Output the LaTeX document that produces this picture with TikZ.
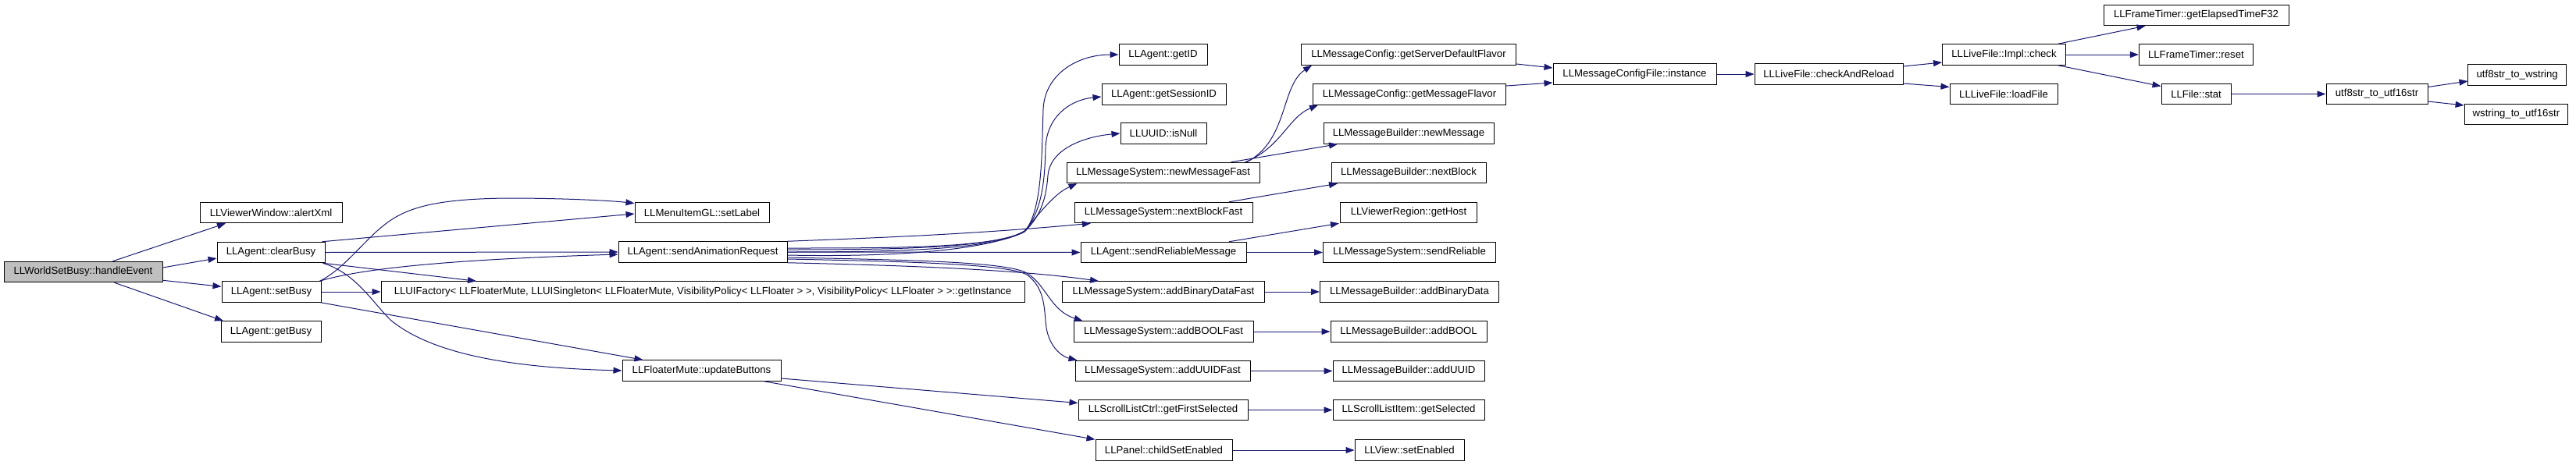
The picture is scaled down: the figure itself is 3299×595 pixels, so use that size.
\documentclass[tikz,border=0pt]{standalone}
\usepackage{fontspec}
\setmainfont{Liberation Sans}
\usetikzlibrary{arrows.meta,calc}
\definecolor{edgec}{HTML}{191970}
\definecolor{rootfill}{HTML}{BFBFBF}
\begin{document}
\begin{tikzpicture}[x=1pt,y=-1pt,
  fn/.style={draw=black, line width=1pt, minimum height=26.5pt, inner sep=0pt,
    font=\fontsize{13.2pt}{16pt}\selectfont, anchor=center},
  ed/.style={draw=edgec, line width=1pt, -{Triangle[length=11pt,width=8pt]}}]
\useasboundingbox (0,0) rectangle (3299,595);
% column 0
\node[fn,fill=rootfill,minimum width=203pt] (he) at (106.5,348.5) {LLWorldSetBusy::handleEvent};
% column 1
\node[fn,minimum width=182pt] (alert) at (347,272.5) {LLViewerWindow::alertXml};
\node[fn,minimum width=138pt] (clear) at (347,323.5) {LLAgent::clearBusy};
\node[fn,minimum width=127pt] (setb) at (347.5,374) {LLAgent::setBusy};
\node[fn,minimum width=128pt] (getb) at (347,425) {LLAgent::getBusy};
% column 2
\node[fn,minimum width=172pt] (setlabel) at (899,272.5) {LLMenuItemGL::setLabel};
\node[fn,minimum width=216pt] (sar) at (900,323) {LLAgent::sendAnimationRequest};
\node[fn,minimum width=824pt] (uif) at (900,374) {LLUIFactory< LLFloaterMute, LLUISingleton< LLFloaterMute, VisibilityPolicy< LLFloater > >, VisibilityPolicy< LLFloater > >::getInstance};
\node[fn,minimum width=203pt] (upd) at (898.5,475) {LLFloaterMute::updateButtons};
% column 3
\node[fn,minimum width=113pt] (getid) at (1489.5,70) {LLAgent::getID};
\node[fn,minimum width=159pt] (sess) at (1490.5,121) {LLAgent::getSessionID};
\node[fn,minimum width=110pt] (isnull) at (1490,171) {LLUUID::isNull};
\node[fn,minimum width=247pt] (nmf) at (1489.5,221.5) {LLMessageSystem::newMessageFast};
\node[fn,minimum width=228pt] (nbf) at (1490,272.5) {LLMessageSystem::nextBlockFast};
\node[fn,minimum width=212pt] (srm) at (1490,323.5) {LLAgent::sendReliableMessage};
\node[fn,minimum width=259pt] (abdf) at (1490,374) {LLMessageSystem::addBinaryDataFast};
\node[fn,minimum width=230pt] (boolf) at (1490,425) {LLMessageSystem::addBOOLFast};
\node[fn,minimum width=224pt] (uuidf) at (1489,475.5) {LLMessageSystem::addUUIDFast};
\node[fn,minimum width=217pt] (gfs) at (1489.5,525.5) {LLScrollListCtrl::getFirstSelected};
\node[fn,minimum width=175pt] (cse) at (1490.5,577) {LLPanel::childSetEnabled};
% column 4
\node[fn,minimum width=275pt] (gsdf) at (1804,70) {LLMessageConfig::getServerDefaultFlavor};
\node[fn,minimum width=247pt] (gmf) at (1805,121) {LLMessageConfig::getMessageFlavor};
\node[fn,minimum width=218pt] (nm) at (1804,171) {LLMessageBuilder::newMessage};
\node[fn,minimum width=198pt] (nb) at (1804,221.5) {LLMessageBuilder::nextBlock};
\node[fn,minimum width=175pt] (gh) at (1804,272.5) {LLViewerRegion::getHost};
\node[fn,minimum width=221pt] (sr) at (1805,323.5) {LLMessageSystem::sendReliable};
\node[fn,minimum width=229pt] (abd) at (1805,374) {LLMessageBuilder::addBinaryData};
\node[fn,minimum width=200pt] (bool) at (1804,425) {LLMessageBuilder::addBOOL};
\node[fn,minimum width=194pt] (uuid) at (1804,475.5) {LLMessageBuilder::addUUID};
\node[fn,minimum width=194pt] (gsel) at (1804,525.5) {LLScrollListItem::getSelected};
\node[fn,minimum width=140pt] (se) at (1805,577) {LLView::setEnabled};
% columns 5..10
\node[fn,minimum width=209pt] (inst) at (2093.5,95) {LLMessageConfigFile::instance};
\node[fn,minimum width=190pt] (car) at (2342,95) {LLLiveFile::checkAndReload};
\node[fn,minimum width=158pt] (chk) at (2566.5,70) {LLLiveFile::Impl::check};
\node[fn,minimum width=138pt] (lf) at (2566,120.5) {LLLiveFile::loadFile};
\node[fn,minimum width=237pt] (get) at (2812.5,19.5) {LLFrameTimer::getElapsedTimeF32};
\node[fn,minimum width=146pt] (rst) at (2812.4,70) {LLFrameTimer::reset};
\node[fn,minimum width=89pt] (stat) at (2812.5,120.5) {LLFile::stat};
\node[fn,minimum width=130pt] (u16) at (3044,120.5) {utf8str\_to\_utf16str};
\node[fn,minimum width=125.5pt] (uws) at (3223.7,96) {utf8str\_to\_wstring};
\node[fn,minimum width=132.7pt] (wus) at (3222.4,146.5) {wstring\_to\_utf16str};

% edges from handleEvent
\draw[ed] ([xshift=38pt]he.north) -- ([xshift=-58pt]alert.south);
\draw[ed] ([yshift=5.5pt]he.east) -- ([yshift=-7.5pt]clear.west);
\draw[ed] ([yshift=-10.8pt]he.east) -- ([yshift=6.7pt]setb.west);
\draw[ed] ([xshift=40pt]he.south) -- ([xshift=-61pt]getb.north);
% clearBusy / setBusy
\draw[ed] ([xshift=-4pt]clear.north east) -- ([yshift=-1.5pt]setlabel.west);
\draw[ed] ([xshift=-2pt]setb.north east) .. controls (440,345) and (465,310) .. (490,290)
  .. controls (520,265) and (560,255) .. (650,254) .. controls (720,254) and (780,257) .. ([yshift=12pt]setlabel.west);
\draw[ed] (clear.east) -- (sar.west);
\draw[ed] ([xshift=-2pt]setb.north east) .. controls (470,342) and (600,332) .. ([yshift=-3pt]sar.west);
\draw[ed] ([xshift=-3pt]clear.south east) -- ([xshift=-290pt]uif.north);
\draw[ed] (setb.east) -- (uif.west);
\draw[ed] ([xshift=-3pt]clear.south east) .. controls (455,350) and (475,385) .. (500,410)
  .. controls (560,460) and (680,472) .. (upd.west);
\draw[ed] ([xshift=-1pt]setb.south east) -- ([xshift=-75pt]upd.north);
% sendAnimationRequest
\draw[ed] ([yshift=5pt]sar.east) .. controls (1150,318) and (1270,318) .. (1312,297)
  .. controls (1335,270) and (1334,200) .. (1336,140) .. controls (1338,95) and (1380,70) .. (getid.west);
\draw[ed] ([yshift=3pt]sar.east) .. controls (1150,320) and (1270,318) .. (1312,297)
  .. controls (1335,270) and (1338,230) .. (1339,190) .. controls (1340,150) and (1370,128) .. ([yshift=-3pt]sess.west);
\draw[ed] (sar.east) .. controls (1150,323) and (1270,320) .. (1312,297)
  .. controls (1335,275) and (1340,250) .. (1342,225) .. controls (1345,190) and (1390,175) .. (isnull.west);
\draw[ed] ([yshift=-4pt]sar.east) .. controls (1150,330) and (1270,320) .. (1312,296)
  .. controls (1330,275) and (1350,248) .. ([xshift=-110pt]nmf.south);
\draw[ed] (sar.north east) .. controls (1120,305) and (1250,300) .. ([xshift=-93pt]nbf.south);
\draw[ed] (sar.east) -- (srm.west);
\draw[ed] (sar.south east) .. controls (1150,340) and (1300,345) .. ([xshift=-83pt]abdf.north);
\draw[ed] ([yshift=-7pt]sar.east) .. controls (1150,333) and (1290,335) .. (1315,350)
  .. controls (1340,365) and (1345,398) .. ([xshift=12pt]boolf.north west);
\draw[ed] ([yshift=-9pt]sar.east) .. controls (1150,335) and (1290,338) .. (1315,352)
  .. controls (1340,370) and (1337,400) .. (1340,420) .. controls (1344,445) and (1360,457) .. ([xshift=3pt]uuidf.north west);
% updateButtons
\draw[ed] ([yshift=-10pt]upd.east) -- ([yshift=9pt]gfs.west);
\draw[ed] ([xshift=80pt]upd.south) -- ([xshift=-88pt]cse.north);
% column 3 -> 4
\draw[ed] ([xshift=107pt]nmf.north) .. controls (1650,180) and (1640,110) .. ([xshift=-124pt]gsdf.south);
\draw[ed] ([xshift=105pt]nmf.north) .. controls (1640,190) and (1650,150) .. ([xshift=-117pt]gmf.south);
\draw[ed] ([xshift=87pt]nmf.north) -- ([xshift=-91pt]nm.south);
\draw[ed] ([xshift=84pt]nbf.north) -- ([xshift=-91pt]nb.south);
\draw[ed] ([xshift=84pt]srm.north) -- ([xshift=-89pt]gh.south);
\draw[ed] (srm.east) -- (sr.west);
\draw[ed] (abdf.east) -- (abd.west);
\draw[ed] (boolf.east) -- (bool.west);
\draw[ed] (uuidf.east) -- (uuid.west);
\draw[ed] (gfs.east) -- (gsel.west);
\draw[ed] (cse.east) -- (se.west);
% config chain
\draw[ed] ([yshift=-12pt]gsdf.east) -- ([yshift=8pt]inst.west);
\draw[ed] ([yshift=11pt]gmf.east) -- ([yshift=-11pt]inst.west);
\draw[ed] (inst.east) -- (car.west);
\draw[ed] ([yshift=10pt]car.east) -- ([yshift=-10pt]chk.west);
\draw[ed] ([yshift=-12pt]car.east) -- ([yshift=9pt]lf.west);
\draw[ed] ([xshift=69pt]chk.north) -- ([xshift=-65pt]get.south);
\draw[ed] (chk.east) -- (rst.west);
\draw[ed] ([xshift=69pt]chk.south) -- ([yshift=10pt]stat.west);
\draw[ed] (stat.east) -- (u16.west);
\draw[ed] ([yshift=9pt]u16.east) -- ([yshift=-8pt]uws.west);
\draw[ed] ([yshift=-9.5pt]u16.east) -- ([yshift=11.5pt]wus.west);
\end{tikzpicture}
\end{document}
